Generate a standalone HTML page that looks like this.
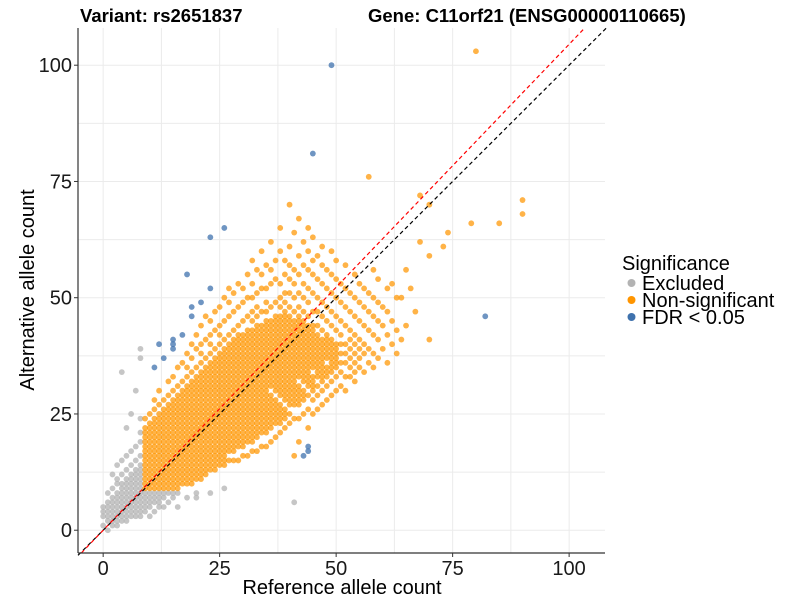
<!DOCTYPE html>
<html><head><meta charset="utf-8"><style>
body{margin:0;background:#fff;}
svg{display:block;font-family:"Liberation Sans",Arial,sans-serif;}
</style></head><body>
<svg id="chart" width="800" height="600">
<text x="80" y="22" font-size="18.5" font-weight="bold" fill="#000">Variant: rs2651837</text>
<text x="368" y="22" font-size="18.5" font-weight="bold" fill="#000">Gene: C11orf21 (ENSG00000110665)</text>
<g id="grid"></g>
<g id="pts"></g>
<g id="lines"></g>
<g id="axes"></g>
<text x="342" y="594" font-size="20" text-anchor="middle" fill="#000">Reference allele count</text>
<text transform="translate(34,290) rotate(-90)" font-size="20" text-anchor="middle" fill="#000">Alternative allele count</text>
<g>
<text x="622" y="270" font-size="20" fill="#000">Significance</text>
<g><circle cx="631.5" cy="283" r="4" fill="#b3b3b3"/><text x="642" y="290" font-size="20">Excluded</text></g>
<g><circle cx="631.5" cy="300" r="4" fill="#ff9500"/><text x="642" y="307" font-size="20">Non-significant</text></g>
<g><circle cx="631.5" cy="317" r="4" fill="#3f72ad"/><text x="642" y="324" font-size="20">FDR &lt; 0.05</text></g>
</g>
</svg>
<script>
const xTicks=[0,25,50,75,100];
const yTicks=[0,25,50,75,100];
const minorTicks=[12.5,37.5,62.5,87.5];
const redSlope=1.045;
// "x:y-list" ; "a-b" means every integer count from a to b
const orangeData=[
"9:9-22,24","10:9-23,25","11:9-24,26,28","12:9-25,27,30","13:9-26,28","14:9-27,29,32","15:9-28,30,33","16:9-29,31,35",
"17:10-30,32,36","18:10-31,33,35,38","19:10-32,34,37,40","20:11-33,35,39,42","21:11-34,36,38,40,44","22:12-35,37,41,46",
"23:13-36,38,40,42,45","24:13-37,39,43,47","25:14-38,40,42,44,48","26:14-39,41,45,50","27:15,17-40,42,46,49,52","28:15,17-41,43,47,51",
"29:15,18-42,44,48,53","30:16,18-42,45,49,52","31:16,19-43,46,50,55","32:17,19-43,45,47,50,53,58","33:17,20-44,46,48,51,56","34:18,21-44,47,52,55,60",
"35:18,21-45,47,49,52,57","36:19,22-29,31-45,48,53,56,62","37:20,23-28,30-46,49,54,58","38:21,23-27,29-46,48,50,53,60,65",
"39:22,24-26,28-47,49,51,55,58","40:23,25,27-46,48,51,54,57,61,70","41:16,24,27-45,47,50,53,56,64","42:19,24,27-31,33-46,48,51,55,59,67",
"43:25,28-30,32-45,47,50,53,57,62","44:22,26,29,31-44,46,49,52,56,60,65","45:25,28,30-33,35-44,47,51,55,58,63",
"46:26,29,31,33-42,44,47,50,54,59","47:27,30,32-41,43,46,49,53,57,61","48:28,31,33-35,37-42,45,48,52,56",
"49:29,32,34-41,44,47,51,55,60","50:30,33,35-40,43,46,50,54,58","51:31,34,36,38,40,42,45,49,53",
"52:30,33,36,38,40,44,48,52,57","53:33,35,37,39,41,43,47,51","54:32,34,36,38,40,42,46,50,55",
"55:35,37,39,41,45,49,53","56:34,38,40,44,48,52","57:36,39,43,47,51,76","58:35,38,42,46,50,56",
"59:37,41,45,49,54","60:39,44,48","61:36,42,47,52","62:40,45,53","63:38,43,50","64:41,50","65:44,56",
"66:52","67:47","68:62,72","70:41,59,70","73:61","74:64","79:66","80:103","85:66","90:68,71"
];
const grayData=[
"0:1,3,4,5","1:0,2,3,4,5,6,8","2:1,2,3,4,5,6,7,9,12","3:1,2,3,4,5,6,7,8,10,11,14",
"4:2,3,4,5,6,7,8,9,10,12,15,34","5:2,3,4,5,6,7,8,9,10,11,13,16,22","6:3,4,5,6,7,8,9,10,11,12,14,17,25",
"7:3,4,5,6,7,8,9,10,11,12,13,15,18,30","8:3,4,5,6,7,8,9,10,11,12,13,14,16,19,21,24,37,39",
"9:4,5,6,7,8","10:3,5,6,7,8","11:4,6,7,8","12:5,6,7,8","13:5,7,8","14:6,8","15:7,8","16:5,8","18:7","20:7,8","23:8","26:9","41:6"
];
const blueData=["11:35","12:40","13:37","15:39,40,41","17:42","18:55","19:46,48","21:49","23:52,63","26:65","43:16","44:17,18","45:81","49:100","82:46"];

const NS="http://www.w3.org/2000/svg";
const X0=78,X1=605,Y0=28,Y1=553;
const xMin=-5.4,xMax=107.7,yMin=-4.9,yMax=108;
function sx(v){return X0+(v-xMin)/(xMax-xMin)*(X1-X0);}
function sy(v){return Y1-(v-yMin)/(yMax-yMin)*(Y1-Y0);}
function mk(tag,attrs,parent){const e=document.createElementNS(NS,tag);for(const k in attrs)e.setAttribute(k,attrs[k]);parent.appendChild(e);return e;}
function parseYs(s){const out=[];s.split(',').forEach(tok=>{if(tok.includes('-')){const [a,b]=tok.split('-').map(Number);for(let i=a;i<=b;i++)out.push(i);}else out.push(+tok);});return out;}
const grid=document.getElementById('grid'),lines=document.getElementById('lines'),pts=document.getElementById('pts'),axes=document.getElementById('axes');
[...xTicks,...minorTicks].forEach(v=>{
  const l=mk('line',{x1:sx(v),x2:sx(v),y1:Y0,y2:Y1,stroke:'#ebebeb','stroke-width':1},grid);
  
  
});
[...yTicks,...minorTicks].forEach(v=>{
  const l=mk('line',{x1:X0,x2:X1,y1:sy(v),y2:sy(v),stroke:'#ebebeb','stroke-width':1},grid);
  
  
});
function addSeries(data,color,op,name){
  data.forEach(s=>{const [xs,ys]=s.split(':');const x=+xs;parseYs(ys).forEach(y=>{
    const c=mk('circle',{cx:sx(x),cy:sy(y),r:2.9,fill:color,'fill-opacity':op},pts);
    
    
  });});
}
addSeries(grayData,'#b3b3b3',0.75,'point-excluded');
addSeries(orangeData,'#ff9500',0.72,'point-non-significant');
addSeries(blueData,'#3f72ad',0.75,'point-fdr');
const bl=mk('line',{x1:sx(xMin),y1:sy(xMin),x2:sx(yMax),y2:sy(yMax),stroke:'#000','stroke-width':1.2,'stroke-dasharray':'4,3'},lines);


const rl=mk('line',{x1:sx(yMin/redSlope),y1:sy(yMin),x2:sx(yMax/redSlope),y2:sy(yMax),stroke:'#ff0000','stroke-width':1.2,'stroke-dasharray':'4,3'},lines);


const ax=mk('line',{x1:X0,x2:X1,y1:Y1,y2:Y1,stroke:'#333','stroke-width':1.2},axes);


const ay=mk('line',{x1:X0,x2:X0,y1:Y0,y2:Y1,stroke:'#333','stroke-width':1.2},axes);


xTicks.forEach(v=>{
  mk('line',{x1:sx(v),x2:sx(v),y1:Y1,y2:Y1+4,stroke:'#333'},axes);
  const t=mk('text',{x:sx(v),y:Y1+22,'font-size':20,'text-anchor':'middle',fill:'#1a1a1a'},axes);
  t.textContent=v;
  
  
});
yTicks.forEach(v=>{
  mk('line',{x1:X0-4,x2:X0,y1:sy(v),y2:sy(v),stroke:'#333'},axes);
  const t=mk('text',{x:X0-6,y:sy(v)+7,'font-size':20,'text-anchor':'end',fill:'#1a1a1a'},axes);
  t.textContent=v;
  
  
});
</script>
</body></html>
